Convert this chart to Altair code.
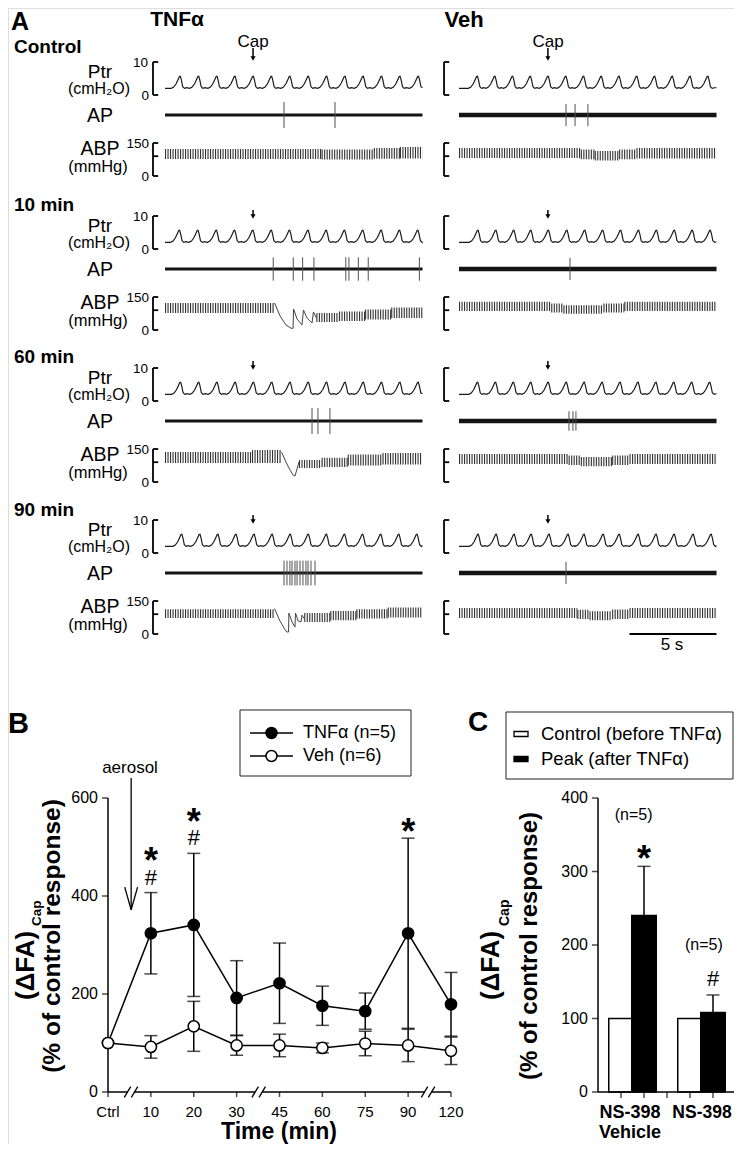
import altair as alt
import pandas as pd

FONT = "Liberation Sans"
M = 8            # page margin
W, H = 726, 1136  # drawing area

# ======================= Panel A : recordings =======================
col_names = ["TNFα", "Veh"]
row_names = ["Control", "10 min", "60 min", "90 min"]
trace_len_s = 14.8
cap_time_s = [5.06, 5.11]

# one breathing cycle of tracheal pressure: time from inspiratory peak (s), cmH2O
ptr_cycle_dt = [-0.50, -0.36, -0.22, -0.10, -0.03, 0.02, 0.08, 0.16, 0.26, 0.38]
ptr_cycle_cmh2o = [2.0, 2.4, 3.4, 4.8, 5.6, 5.7, 4.6, 2.5, 2.0, 2.2]

ptr_peaks_tnf_ctrl = [0.86, 1.92, 2.97, 4.01, 5.06, 6.11, 7.17, 8.23, 9.28, 10.33, 11.38, 12.44, 13.49, 14.55]
ptr_peaks_tnf_10 = [0.82, 1.88, 2.94, 3.99, 5.04, 6.10, 7.15, 8.21, 9.26, 10.31, 11.36, 12.42, 13.47, 14.52]
ptr_peaks_tnf_60 = [0.88, 1.93, 2.98, 4.03, 5.08, 6.13, 7.18, 8.23, 9.28, 10.34, 11.39, 12.44, 13.49, 14.54]
ptr_peaks_tnf_90 = [0.95, 1.99, 3.03, 4.07, 5.11, 6.15, 7.19, 8.23, 9.27, 10.31, 11.35, 12.39, 13.43, 14.47]
ptr_peaks_veh_ctrl = [1.04, 2.05, 3.07, 4.09, 5.11, 6.13, 7.15, 8.17, 9.19, 10.21, 11.23, 12.25, 13.27, 14.29]
ptr_peaks_veh_10 = [1.08, 2.11, 3.14, 4.12, 5.13, 6.19, 7.22, 8.25, 9.28, 10.31, 11.34, 12.37, 13.40, 14.43]
ptr_peaks_veh_60 = [1.06, 2.09, 3.12, 4.12, 5.12, 6.16, 7.19, 8.22, 9.25, 10.28, 11.31, 12.34, 13.37, 14.40]
ptr_peaks_veh_90 = [1.09, 2.13, 3.16, 4.14, 5.17, 6.26, 7.18, 8.28, 9.20, 10.29, 11.32, 12.36, 13.45, 14.48]

# afferent action potentials: spike times (s) and relative spike amplitude
ap_spikes_tnf_ctrl = [6.84, 9.77]
ap_spikes_tnf_10 = [6.22, 7.37, 7.91, 8.56, 10.39, 10.57, 11.11, 11.68, 14.62]
ap_spikes_tnf_60 = [8.45, 8.79, 9.48]
ap_spikes_tnf_90 = [6.84, 7.01, 7.18, 7.30, 7.47, 7.59, 7.76, 7.93, 8.10, 8.22, 8.39, 8.62]
ap_spikes_veh_ctrl = [6.15, 6.67, 7.41]
ap_spikes_veh_10 = [6.38]
ap_spikes_veh_60 = [6.32, 6.55, 6.72]
ap_spikes_veh_90 = [6.15]
ap_spike_amp_tnf = [1.0, 0.9, 1.0, 0.95]
ap_spike_amp_veh = [0.85, 0.85, 0.75, 0.85]

# arterial blood pressure: pulsatile band (t start, t end, diastolic, systolic mmHg)
abp_band_tnf_ctrl = [(0.0, 9.0, 77, 123), (9.0, 12.0, 75, 120), (12.0, 13.5, 78, 127), (13.5, 14.8, 80, 132)]
abp_band_tnf_10 = [(0.0, 6.3, 77, 123), (8.7, 10.0, 36, 77), (10.0, 11.5, 41, 84), (11.5, 13.0, 48, 93),
                   (13.0, 14.8, 55, 102)]
abp_band_tnf_60 = [(0.0, 5.0, 86, 136), (5.0, 6.7, 86, 145), (7.7, 9.0, 64, 100), (9.0, 10.5, 68, 110),
                   (10.5, 12.5, 75, 125), (12.5, 14.8, 80, 132)]
abp_band_tnf_90 = [(0.0, 6.3, 73, 112), (8.0, 9.5, 55, 95), (9.5, 11.0, 62, 104), (11.0, 12.8, 70, 112),
                   (12.8, 14.8, 75, 120)]
abp_band_veh_ctrl = [(0.0, 7.0, 82, 127), (7.0, 7.8, 76, 120), (7.8, 9.2, 70, 114), (9.2, 10.2, 76, 121),
                     (10.2, 14.8, 80, 127)]
abp_band_veh_10 = [(0.0, 5.3, 86, 128), (5.3, 6.0, 80, 120), (6.0, 8.3, 74, 112), (8.3, 9.5, 80, 120),
                   (9.5, 14.8, 86, 128)]
abp_band_veh_60 = [(0.0, 6.3, 82, 127), (6.3, 7.0, 77, 120), (7.0, 8.8, 72, 114), (8.8, 9.8, 77, 121),
                   (9.8, 14.8, 82, 127)]
abp_band_veh_90 = [(0.0, 6.8, 73, 118), (6.8, 7.5, 68, 110), (7.5, 8.8, 62, 103), (8.8, 9.8, 68, 111),
                   (9.8, 14.8, 73, 118)]
# slow (bradycardic) beats drawn individually: (t s, mmHg)
abp_slow_tnf_10 = [(6.3, 123), (6.61, 64), (6.95, 23), (7.24, 8), (7.36, 8), (7.39, 95), (7.59, 50),
                   (7.87, 23), (7.96, 91), (8.16, 55), (8.45, 32), (8.53, 82), (8.7, 55)]
abp_slow_tnf_60 = [(6.7, 136), (6.95, 91), (7.18, 55), (7.36, 32), (7.47, 27), (7.59, 60), (7.7, 91)]
abp_slow_tnf_90 = [(6.3, 115), (6.6, 60), (6.9, 20), (7.0, 9), (7.1, 9), (7.12, 95), (7.3, 55),
                   (7.47, 32), (7.5, 95), (7.65, 60), (7.82, 55), (7.87, 86), (8.0, 70)]
scale_bar_s = 5

# ======================= Panel B =======================
b_time_labels = ["Ctrl", "10", "20", "30", "45", "60", "75", "90", "120"]
b_y_ticks = [0, 200, 400, 600]
b_tnf_mean = [100, 324, 341, 192, 222, 176, 165, 324, 179]
b_tnf_sem = [0, 83, 146, 76, 82, 40, 37, 194, 65]
b_veh_mean = [100, 92, 134, 95, 95, 90, 99, 95, 84]
b_veh_sem = [0, 23, 51, 20, 23, 10, 25, 33, 28]
b_sig_pos = [1, 1, 2, 2, 7]
b_sig_sym = ["*", "#", "*", "#", "*"]
b_sig_y = [490, 439, 569, 520, 549]
b_axis_breaks = [0.537, 3.515, 7.465]

# ======================= Panel C =======================
c_y_ticks = [0, 100, 200, 300, 400]
c_x_ticks = [1, 2, 3, 4, 5]
c_group_line1 = ["NS-398", "NS-398"]
c_group_line2 = ["Vehicle", ""]
c_control = [100, 100]
c_peak = [240, 108]
c_peak_sem = [67, 24]
c_n_text = ["(n=5)", "(n=5)"]
c_n_pos = [1.55, 4.6]
c_n_y = [377, 200]
c_sig_sym = ["*", "#"]
c_sig_y = [329, 155]

# ---------------------------------------------------------------
PTR = {(0, 0): ptr_peaks_tnf_ctrl, (0, 1): ptr_peaks_tnf_10, (0, 2): ptr_peaks_tnf_60, (0, 3): ptr_peaks_tnf_90,
       (1, 0): ptr_peaks_veh_ctrl, (1, 1): ptr_peaks_veh_10, (1, 2): ptr_peaks_veh_60, (1, 3): ptr_peaks_veh_90}
APS = {(0, 0): ap_spikes_tnf_ctrl, (0, 1): ap_spikes_tnf_10, (0, 2): ap_spikes_tnf_60, (0, 3): ap_spikes_tnf_90,
       (1, 0): ap_spikes_veh_ctrl, (1, 1): ap_spikes_veh_10, (1, 2): ap_spikes_veh_60, (1, 3): ap_spikes_veh_90}
APA = {(0, r): ap_spike_amp_tnf[r] for r in range(4)}
APA.update({(1, r): ap_spike_amp_veh[r] for r in range(4)})
BAND = {(0, 0): abp_band_tnf_ctrl, (0, 1): abp_band_tnf_10, (0, 2): abp_band_tnf_60, (0, 3): abp_band_tnf_90,
        (1, 0): abp_band_veh_ctrl, (1, 1): abp_band_veh_10, (1, 2): abp_band_veh_60, (1, 3): abp_band_veh_90}
SLOW = {(0, 1): abp_slow_tnf_10, (0, 2): abp_slow_tnf_60, (0, 3): abp_slow_tnf_90}

# layout (page pixels)
COL_X0 = [165, 459]
PX_PER_S = 17.4
ROW_DY = [0, 154, 306, 458]
PTR0, AP0, ABP0, BR = 95, 115, 176, 33
BRACKET_T = [-0.69, -0.86]
TICK_T = 0.3
ARROW_Y = [(48, 61), (210, 219), (361, 370), (515, 524)]
ROW_TITLE_Y = [46.5, 205, 357, 510]


def xsc(dom, a, b):
    return alt.Scale(domain=dom, range=[a - M, b - M], nice=False, zero=False)


def label(s, x, y, size=14, bold=False, align="center", baseline="middle", angle=0, color="black", dy=0):
    kw = dict(align=align, baseline=baseline, fontSize=size, font=FONT, color=color)
    if bold:
        kw["fontWeight"] = "bold"
    if angle:
        kw["angle"] = angle
    if dy:
        kw["dy"] = dy
    return alt.Chart(pd.DataFrame({"s": [s]})).mark_text(**kw).encode(
        text="s:N", x=alt.value(x - M), y=alt.value(y - M))


def ptr_df(peaks):
    pts = [(0.0, ptr_cycle_cmh2o[0])]
    for p in peaks:
        for dt, v in zip(ptr_cycle_dt, ptr_cycle_cmh2o):
            t = round(p + dt, 3)
            if 0.0 < t < trace_len_s:
                pts.append((t, v))
    pts.append((trace_len_s, ptr_cycle_cmh2o[-1]))
    return pd.DataFrame(pts, columns=["t", "v"])


def bracket_df(tb, lo, hi, ticks):
    rows = [dict(t=tb, t2=tb, v=lo, v2=hi)]
    for v in ticks:
        rows.append(dict(t=tb, t2=tb + TICK_T, v=v, v2=v))
    return pd.DataFrame(rows)


layers = []
for ci in range(2):
    x0 = COL_X0[ci]
    xs = xsc([0, trace_len_s], x0, x0 + trace_len_s * PX_PER_S)
    X = lambda f: alt.X(f, scale=xs, axis=None)
    for r in range(4):
        dy = ROW_DY[r]
        # ---- Ptr ----
        ys = xsc([0, 10], PTR0 + dy, PTR0 + dy - BR)
        Y = lambda f, ys=ys: alt.Y(f, scale=ys, axis=None)
        a_top, a_bot = ARROW_Y[r]
        arrow = pd.DataFrame({"t": [cap_time_s[ci]]})
        layers.append(alt.layer(
            alt.Chart(ptr_df(PTR[(ci, r)])).mark_line(color="#1a1a1a", strokeWidth=1.2).encode(
                x=X("t:Q"), y=Y("v:Q")),
            alt.Chart(bracket_df(BRACKET_T[ci], 0, 10, [0, 10])).mark_rule(color="black", strokeWidth=1.8).encode(
                x=X("t:Q"), x2="t2:Q", y=Y("v:Q"), y2="v2:Q"),
            alt.Chart(arrow).mark_rule(color="black", strokeWidth=1.5).encode(
                x=X("t:Q"), y=alt.value(a_top - M), y2=alt.value(a_bot - 3 - M)),
            alt.Chart(arrow).mark_point(shape="triangle-down", filled=True, size=26, color="black", opacity=1).encode(
                x=X("t:Q"), y=alt.value(a_bot - 2.5 - M)),
        ))
        # ---- AP ----
        ys = xsc([-1, 1], AP0 + dy + 13, AP0 + dy - 13)
        Y = lambda f, ys=ys: alt.Y(f, scale=ys, axis=None)
        amp = APA[(ci, r)]
        sp = pd.DataFrame({"t": APS[(ci, r)]})
        sp["lo"] = -amp
        sp["hi"] = amp
        base = pd.DataFrame({"t": [0.0], "t2": [trace_len_s], "v": [0.0]})
        layers.append(alt.layer(
            alt.Chart(base).mark_rule(color="#141414", strokeWidth=3.0 if ci == 0 else 4.5).encode(
                x=X("t:Q"), x2="t2:Q", y=Y("v:Q")),
            alt.Chart(sp).mark_rule(color="#505050", strokeWidth=1).encode(
                x=X("t:Q"), y=Y("lo:Q"), y2="hi:Q"),
        ))
        # ---- ABP ----
        ys = xsc([0, 150], ABP0 + dy, ABP0 + dy - BR)
        Y = lambda f, ys=ys: alt.Y(f, scale=ys, axis=None)
        bd = pd.DataFrame(BAND[(ci, r)], columns=["t", "t2", "lo", "hi"])
        bd["mid"] = (bd.lo + bd.hi) / 2
        bd["amp"] = bd.hi - bd.lo
        sub = [
            alt.Chart(bd).mark_rule(color="#333333", strokeDash=[1.1, 1.4]).encode(
                x=X("t:Q"), x2="t2:Q", y=Y("mid:Q"),
                size=alt.Size("amp:Q", scale=alt.Scale(domain=[0, 150], range=[0, BR]), legend=None)),
            alt.Chart(bracket_df(BRACKET_T[ci], 0, 150, [0, 90, 150])).mark_rule(color="black", strokeWidth=1.8).encode(
                x=X("t:Q"), x2="t2:Q", y=Y("v:Q"), y2="v2:Q"),
        ]
        if (ci, r) in SLOW:
            sl = pd.DataFrame(SLOW[(ci, r)], columns=["t", "v"])
            sub.append(alt.Chart(sl).mark_line(color="#444444", strokeWidth=1).encode(x=X("t:Q"), y=Y("v:Q")))
        if ci == 1 and r == 3:
            sb = pd.DataFrame({"t": [trace_len_s - scale_bar_s], "t2": [trace_len_s], "v": [0]})
            sub.append(alt.Chart(sb).mark_rule(color="black", strokeWidth=1.8).encode(
                x=X("t:Q"), x2="t2:Q", y=Y("v:Q")))
        layers.append(alt.layer(*sub))

# Panel A texts
texts = [
    label("A", 11, 10, 25, bold=True, align="left", baseline="top"),
    label("TNFα", 177, 20, 21, bold=True),
    label("Veh", 464, 20, 22, bold=True),
    label("Cap", 253, 42, 17),
    label("Cap", 548, 42, 17),
    label("5 s", 672, 645, 17),
]
for r in range(4):
    dy = ROW_DY[r]
    texts += [
        label(row_names[r], 14, ROW_TITLE_Y[r], 19, bold=True, align="left"),
        label("Ptr", 100, 72 + dy, 19),
        label("(cmH₂O)", 99, 89 + dy, 16),
        label("10", 148, 63 + dy, 13.5, align="right"),
        label("0", 149, 96 + dy, 13.5, align="right"),
        label("AP", 100, 116 + dy, 19.5),
        label("ABP", 100, 149 + dy, 19.5),
        label("(mmHg)", 98, 167 + dy, 16.5),
        label("150", 149, 144 + dy, 13.5, align="right"),
        label("0", 149, 177 + dy, 13.5, align="right"),
    ]

# ======================= Panel B chart =======================
XB = xsc([0, 8], 108, 451)
YB = xsc([0, 600], 1092, 798)
XBq = lambda f: alt.X(f, scale=XB, axis=None)
YBq = lambda f: alt.Y(f, scale=YB, axis=None)

b_long = pd.DataFrame({
    "i": list(range(9)) * 2,
    "series": ["TNF"] * 9 + ["Veh"] * 9,
    "mean": b_tnf_mean + b_veh_mean,
    "sem": b_tnf_sem + b_veh_sem,
})
b_long["lo"] = b_long["mean"] - b_long["sem"]
b_long["hi"] = b_long["mean"] + b_long["sem"]
b_err = b_long[b_long["sem"] > 0]

seg_x, seg_x2 = [0.0], []
for c in b_axis_breaks:
    seg_x2.append(c - 0.082)
    seg_x.append(c + 0.082)
seg_x2.append(8.0)
b_axis_line = pd.DataFrame({"x": seg_x, "x2": seg_x2, "y": [0] * len(seg_x)})
slashes = []
for c in b_axis_breaks:
    for s in (c - 0.082, c + 0.082):
        slashes.append(dict(x=s - 0.075, x2=s + 0.075, y=-11, y2=11))
b_slash = pd.DataFrame(slashes)
b_xt = pd.DataFrame({"i": list(range(len(b_time_labels))), "lab": b_time_labels, "y": 0})
b_yt = pd.DataFrame({"v": b_y_ticks, "x": 0})
b_yline = pd.DataFrame({"x": [0], "y": [b_y_ticks[0]], "y2": [b_y_ticks[-1]]})

b_sig = pd.DataFrame({"i": b_sig_pos, "s": b_sig_sym, "y": b_sig_y})
aer = pd.DataFrame([dict(x=0.54, x2=0.54, y=641, y2=372),
                    dict(x=0.39, x2=0.54, y=418, y2=372),
                    dict(x=0.69, x2=0.54, y=418, y2=372)])

panel_b = alt.layer(
    # axes
    alt.Chart(b_yline).mark_rule(color="black", strokeWidth=1.5).encode(x=XBq("x:Q"), y=YBq("y:Q"), y2="y2:Q"),
    alt.Chart(b_yt).mark_tick(orient="horizontal", size=6, thickness=1.5, xOffset=-3, color="black").encode(
        x=XBq("x:Q"), y=YBq("v:Q")),
    alt.Chart(b_yt).mark_text(font=FONT, fontSize=16, align="right", dx=-10).encode(
        x=XBq("x:Q"), y=YBq("v:Q"), text=alt.Text("v:Q", format="d")),
    alt.Chart(b_axis_line).mark_rule(color="black", strokeWidth=1.5).encode(
        x=XBq("x:Q"), x2="x2:Q", y=YBq("y:Q")),
    alt.Chart(b_slash).mark_rule(color="black", strokeWidth=1.3).encode(
        x=XBq("x:Q"), x2="x2:Q", y=YBq("y:Q"), y2="y2:Q"),
    alt.Chart(b_xt).mark_tick(orient="vertical", size=5, thickness=1.5, yOffset=2.5, color="black").encode(
        x=XBq("i:Q"), y=YBq("y:Q")),
    alt.Chart(b_xt).mark_text(font=FONT, fontSize=15, dy=20).encode(
        x=XBq("i:Q"), y=YBq("y:Q"), text="lab:N"),
    # data
    alt.Chart(b_long).mark_line(color="black", strokeWidth=1.5).encode(
        x=XBq("i:Q"), y=YBq("mean:Q"), detail="series:N"),
    alt.Chart(b_err).mark_rule(color="black", strokeWidth=1.5).encode(
        x=XBq("i:Q"), y=YBq("lo:Q"), y2="hi:Q"),
    alt.Chart(b_err).mark_tick(orient="horizontal", size=13, thickness=1.5, color="black").encode(
        x=XBq("i:Q"), y=YBq("hi:Q")),
    alt.Chart(b_err).mark_tick(orient="horizontal", size=13, thickness=1.5, color="black").encode(
        x=XBq("i:Q"), y=YBq("lo:Q")),
    alt.Chart(b_long).mark_point(shape="circle", filled=True, size=125, stroke="black", strokeWidth=1.5,
                                 opacity=1).encode(
        x=XBq("i:Q"), y=YBq("mean:Q"),
        fill=alt.Fill("series:N", scale=alt.Scale(domain=["TNF", "Veh"], range=["black", "white"]), legend=None)),
    alt.Chart(b_sig[b_sig.s == "*"]).mark_text(font=FONT, fontSize=36, fontWeight="bold", dy=10).encode(
        x=XBq("i:Q"), y=YBq("y:Q"), text="s:N"),
    alt.Chart(b_sig[b_sig.s == "#"]).mark_text(font=FONT, fontSize=22, dy=1).encode(
        x=XBq("i:Q"), y=YBq("y:Q"), text="s:N"),
    alt.Chart(aer).mark_rule(color="black", strokeWidth=1.3).encode(
        x=XBq("x:Q"), x2="x2:Q", y=YBq("y:Q"), y2="y2:Q"),
)

b_texts = [
    label("B", 8, 724, 29, bold=True, align="left"),
    label("aerosol", 130, 768, 17),
    label("(ΔFA)", 34, 1000, 26, bold=True, angle=270, align="left", baseline="alphabetic"),
    label("Cap", 41, 926, 13.5, bold=True, angle=270, align="left", baseline="alphabetic"),
    label("(% of control response)", 53, 936, 24.5, bold=True, angle=270),
    label("Time (min)", 279, 1132, 23, bold=True),
]
b_legend = [
    alt.Chart(pd.DataFrame({"a": [0]})).mark_rect(fill="white", stroke="#222", strokeWidth=1).encode(
        x=alt.value(240 - M), x2=alt.value(411 - M), y=alt.value(710 - M), y2=alt.value(776 - M)),
]
for yy, fillc, txt in [(733, "black", "TNFα (n=5)"), (756, "white", "Veh (n=6)")]:
    b_legend.append(alt.Chart(pd.DataFrame({"a": [0]})).mark_rule(color="black", strokeWidth=1.5).encode(
        x=alt.value(250 - M), x2=alt.value(293 - M), y=alt.value(yy - M)))
    b_legend.append(alt.Chart(pd.DataFrame({"a": [0]})).mark_point(
        shape="circle", filled=True, fill=fillc, stroke="black", strokeWidth=1.5, size=120, opacity=1).encode(
        x=alt.value(271.5 - M), y=alt.value(yy - M)))
    b_legend.append(label(txt, 303, yy, 18, align="left"))

# ======================= Panel C chart =======================
XC = xsc([0, 6], 593, 741)
YC = xsc([0, 400], 1092, 798)
XCq = lambda f: alt.X(f, scale=XC, axis=None)
YCq = lambda f: alt.Y(f, scale=YC, axis=None)

c_bars = pd.DataFrame({
    "slot": [1, 2, 4, 5],
    "kind": ["Control", "Peak", "Control", "Peak"],
    "val": [c_control[0], c_peak[0], c_control[1], c_peak[1]],
})
c_err = pd.DataFrame({"slot": [2, 5], "lo": c_peak, "hi": [p + e for p, e in zip(c_peak, c_peak_sem)]})
c_ann = pd.DataFrame({"slot": c_n_pos, "y": c_n_y, "s": c_n_text})
c_sig = pd.DataFrame({"slot": [2, 5], "y": c_sig_y, "s": c_sig_sym})
c_yt = pd.DataFrame({"v": c_y_ticks, "x": 0})
c_xt = pd.DataFrame({"slot": c_x_ticks, "y": 0})
c_lines = pd.DataFrame([dict(x=0, x2=0, y=c_y_ticks[0], y2=c_y_ticks[-1]), dict(x=0, x2=6, y=0, y2=0)])

panel_c = alt.layer(
    alt.Chart(c_err).mark_rule(color="black", strokeWidth=1.5).encode(
        x=XCq("slot:Q"), y=YCq("lo:Q"), y2="hi:Q"),
    alt.Chart(c_err).mark_tick(orient="horizontal", size=13, thickness=1.5, color="black").encode(
        x=XCq("slot:Q"), y=YCq("hi:Q")),
    alt.Chart(c_bars).mark_bar(size=24.5, stroke="black", strokeWidth=1.5).encode(
        x=XCq("slot:Q"), y=YCq("val:Q"),
        fill=alt.Fill("kind:N", scale=alt.Scale(domain=["Control", "Peak"], range=["white", "black"]), legend=None)),
    alt.Chart(c_lines).mark_rule(color="black", strokeWidth=1.5).encode(
        x=XCq("x:Q"), x2="x2:Q", y=YCq("y:Q"), y2="y2:Q"),
    alt.Chart(c_yt).mark_tick(orient="horizontal", size=6, thickness=1.5, xOffset=-3, color="black").encode(
        x=XCq("x:Q"), y=YCq("v:Q")),
    alt.Chart(c_yt).mark_text(font=FONT, fontSize=16, align="right", dx=-10).encode(
        x=XCq("x:Q"), y=YCq("v:Q"), text=alt.Text("v:Q", format="d")),
    alt.Chart(c_xt).mark_tick(orient="vertical", size=6, thickness=1.5, yOffset=3, color="black").encode(
        x=XCq("slot:Q"), y=YCq("y:Q")),
    alt.Chart(c_ann).mark_text(font=FONT, fontSize=16).encode(
        x=XCq("slot:Q"), y=YCq("y:Q"), text="s:N"),
    alt.Chart(c_sig[c_sig.s == "*"]).mark_text(font=FONT, fontSize=36, fontWeight="bold", dy=10).encode(
        x=XCq("slot:Q"), y=YCq("y:Q"), text="s:N"),
    alt.Chart(c_sig[c_sig.s == "#"]).mark_text(font=FONT, fontSize=22, dy=1).encode(
        x=XCq("slot:Q"), y=YCq("y:Q"), text="s:N"),
)

c_texts = [
    label("C", 468, 723, 28, bold=True, align="left"),
    label("(ΔFA)", 499, 1000, 26, bold=True, angle=270, align="left", baseline="alphabetic"),
    label("Cap", 509, 926, 14, bold=True, angle=270, align="left", baseline="alphabetic"),
    label("(% of control response)", 530, 946, 24, bold=True, angle=270),
    label(c_group_line1[0], 630, 1113, 18, bold=True),
    label(c_group_line2[0], 630, 1133, 18, bold=True),
    label(c_group_line1[1], 702, 1113, 17.5, bold=True),
]
c_legend = [
    alt.Chart(pd.DataFrame({"a": [0]})).mark_rect(fill="white", stroke="#222", strokeWidth=1).encode(
        x=alt.value(506 - M), x2=alt.value(733 - M), y=alt.value(712 - M), y2=alt.value(779 - M)),
]
for yy, fillc, txt in [(734, "white", "Control (before TNFα)"), (759, "black", "Peak (after TNFα)")]:
    c_legend.append(alt.Chart(pd.DataFrame({"a": [0]})).mark_rect(fill=fillc, stroke="black", strokeWidth=1.3).encode(
        x=alt.value(514 - M), x2=alt.value(528 - M), y=alt.value(yy - 2.5 - M), y2=alt.value(yy + 2.5 - M)))
    c_legend.append(label(txt, 541, yy, 18.5, align="left"))

chart = alt.layer(
    *layers, *texts, *b_legend, panel_b, *b_texts, *c_legend, panel_c, *c_texts
).resolve_scale(
    x="independent", y="independent", size="independent", fill="independent"
).properties(
    width=W, height=H, autosize=alt.AutoSizeParams(type="none"), padding=0
).configure_view(stroke=None).configure(background="white")

chart.save("out.html", embed_options={"renderer": "svg", "actions": False})
